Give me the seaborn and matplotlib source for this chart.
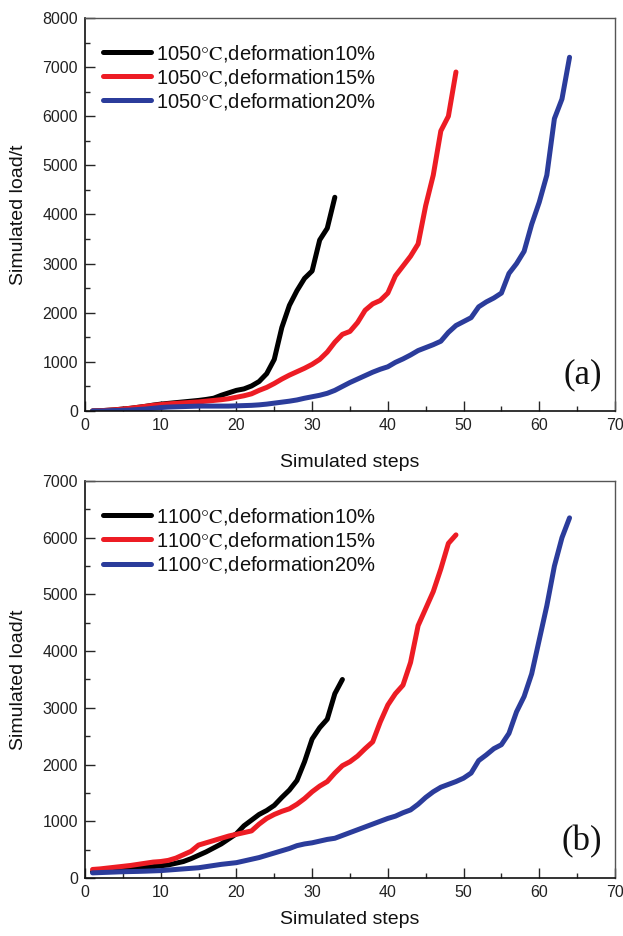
#importing libraries
import numpy as np
import pandas as pd
import matplotlib
matplotlib.use("Agg")
import matplotlib.pyplot as plt
from matplotlib.ticker import MultipleLocator
import seaborn as sns

#data, one value per simulated step (step 1 .. N)
load_1050_10 = [0, 5, 15, 25, 40, 55, 75, 95, 120, 140, 155, 170, 185, 200, 215,
                235, 260, 320, 370, 420, 450, 510, 600, 760, 1050, 1700, 2150,
                2450, 2700, 2850, 3480, 3720, 4350]
load_1050_15 = [0, 5, 15, 25, 40, 55, 75, 95, 115, 130, 145, 155, 165, 175, 185,
                200, 215, 230, 250, 280, 310, 350, 420, 480, 560, 650, 730, 800,
                870, 950, 1050, 1200, 1400, 1560, 1620, 1800, 2050, 2180, 2250,
                2400, 2750, 2950, 3150, 3400, 4180, 4800, 5700, 6000, 6900]
load_1050_20 = [0, 0, 5, 10, 15, 20, 30, 40, 55, 70, 80, 85, 90, 95, 100, 100,
                100, 100, 100, 105, 110, 115, 125, 140, 160, 180, 200, 225, 260,
                290, 320, 360, 420, 500, 580, 650, 720, 790, 850, 900, 990, 1060,
                1140, 1230, 1290, 1350, 1420, 1600, 1740, 1820, 1900, 2120, 2220,
                2300, 2400, 2800, 3000, 3250, 3800, 4250, 4800, 5950, 6350, 7200]

load_1100_10 = [110, 120, 130, 140, 150, 160, 175, 190, 200, 215, 230, 260, 290,
                340, 400, 460, 530, 600, 690, 780, 920, 1020, 1120, 1190, 1280,
                1420, 1550, 1720, 2050, 2450, 2650, 2800, 3250, 3500]
load_1100_15 = [150, 160, 175, 190, 205, 220, 240, 260, 280, 290, 310, 350, 410,
                470, 580, 620, 660, 700, 740, 770, 800, 830, 950, 1050, 1120,
                1175, 1220, 1300, 1400, 1520, 1620, 1700, 1850, 1980, 2050, 2150,
                2280, 2400, 2750, 3050, 3250, 3400, 3800, 4450, 4750, 5050, 5450,
                5900, 6050]
load_1100_20 = [90, 95, 100, 105, 110, 113, 116, 120, 125, 130, 140, 150, 160,
                170, 180, 200, 220, 240, 255, 270, 300, 330, 360, 400, 440, 480,
                520, 570, 600, 620, 650, 680, 700, 750, 800, 850, 900, 950, 1000,
                1050, 1090, 1150, 1200, 1300, 1420, 1520, 1600, 1650, 1700, 1760,
                1850, 2070, 2170, 2280, 2350, 2550, 2930, 3200, 3600, 4200, 4800,
                5500, 6000, 6350]

labels_a = ["1050$\\mathrm{°C}$,deformation10%",
            "1050$\\mathrm{°C}$,deformation15%",
            "1050$\\mathrm{°C}$,deformation20%"]
labels_b = ["1100$\\mathrm{°C}$,deformation10%",
            "1100$\\mathrm{°C}$,deformation15%",
            "1100$\\mathrm{°C}$,deformation20%"]
colors = ["#000000", "#ED1C24", "#2B3C9B"]


def make_frame(series_list, labels):
    """turn the per-step lists into one long dataframe for seaborn"""
    parts = []
    for values, name in zip(series_list, labels):
        parts.append(pd.DataFrame({"step": np.arange(1, len(values) + 1),
                                   "load": values, "series": name}))
    return pd.concat(parts, ignore_index=True)


def draw_panel(ax, df, labels, ymax, tag, xpad):
    sns.lineplot(data=df, x="step", y="load", hue="series", hue_order=labels,
                 palette=colors, linewidth=3.6, legend=False, ax=ax,
                 solid_capstyle="round", solid_joinstyle="round")
    ax.set_xlim(0, 70)
    ax.set_ylim(0, ymax)
    ax.xaxis.set_major_locator(MultipleLocator(10))
    ax.xaxis.set_minor_locator(MultipleLocator(5))
    ax.yaxis.set_major_locator(MultipleLocator(1000))
    ax.yaxis.set_minor_locator(MultipleLocator(500))
    ax.tick_params(which="both", direction="in", top=False, right=False,
                   labelsize=11.5, width=1, pad=5, labelcolor="#222222")
    ax.tick_params(which="major", length=7)
    ax.tick_params(which="minor", length=3.5)
    for side in ["left", "bottom"]:
        ax.spines[side].set_color("#111111")
        ax.spines[side].set_linewidth(1.2)
    for side in ["top", "right"]:
        ax.spines[side].set_color("#555555")
        ax.spines[side].set_linewidth(1.0)
    ax.set_xlabel("Simulated steps", fontsize=14, labelpad=xpad, color="#111111")
    ax.set_ylabel("Simulated load/t", fontsize=14, labelpad=11, color="#111111")
    leg = ax.legend(ax.get_lines(), labels, loc="upper left",
                    bbox_to_anchor=(0.034, 0.937), frameon=False, fontsize=14.5,
                    handlelength=2.4, handletextpad=0.25, labelspacing=0.15,
                    borderpad=0, borderaxespad=0)
    for t in leg.get_texts():
        t.set_color("#111111")
    ax.text(0.975, 0.05, tag, transform=ax.transAxes, ha="right", va="bottom",
            fontsize=25, family="Liberation Serif", color="#111111")


sns.set_theme(style="ticks")
plt.rcParams["font.family"] = ["Liberation Sans", "DejaVu Sans"]
plt.rcParams["mathtext.fontset"] = "stix"

fig = plt.figure(figsize=(6.23, 9.36), dpi=100)
ax_a = fig.add_axes([0.1364, 0.5609, 0.8507, 0.4199])
ax_b = fig.add_axes([0.1364, 0.0620, 0.8507, 0.4241])

df_a = make_frame([load_1050_10, load_1050_15, load_1050_20], labels_a)
df_b = make_frame([load_1100_10, load_1100_15, load_1100_20], labels_b)

draw_panel(ax_a, df_a, labels_a, 8000, "(a)", 15)
draw_panel(ax_b, df_b, labels_b, 7000, "(b)", 8)

fig.savefig("out.png", dpi=100)
